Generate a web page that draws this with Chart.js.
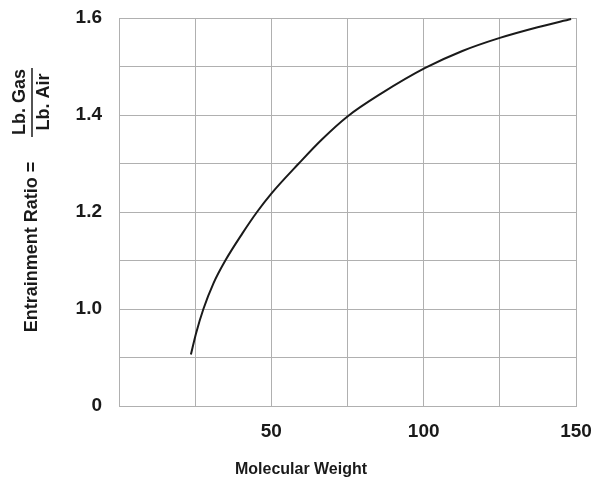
<!DOCTYPE html>
<html>
<head>
<meta charset="utf-8">
<script src="https://cdn.jsdelivr.net/npm/chart.js@4/dist/chart.umd.min.js"></script>
<style>
  html, body { margin: 0; padding: 0; background: #fff; }
  #wrap { width: 610px; height: 482px; }
</style>
</head>
<body>
<div id="wrap"><canvas id="chart"></canvas></div>
<script>
// values
const molWeight = [23.6, 25.3, 27.7, 31, 34.9, 40.5, 45.3, 50, 59, 66.5, 75, 86, 100.5, 112.7, 125, 137.4, 148.4];
const ratio     = [0.906, 0.95, 1.0, 1.053, 1.1, 1.156, 1.2, 1.238, 1.3, 1.349, 1.397, 1.444, 1.497, 1.532, 1.559, 1.581, 1.598];

const xTickLabels = [50, 100, 150];
const yTickLabels = { 8: "0", 10: "1.0", 12: "1.2", 14: "1.4", 16: "1.6" }; // bottom line 0.8 is shown as "0" (broken axis)

const gridColor = "#b0b0b0";
const textColor = "#1a1a1a";
const font = "'Liberation Sans', Arial, sans-serif";

// axis titles incl. the Lb. Gas / Lb. Air fraction
const titlesPlugin = {
    id: "titles",
    afterDraw(chart) {
        const ctx = chart.ctx;
        ctx.save();
        ctx.fillStyle = textColor;
        ctx.textAlign = "center";
        ctx.textBaseline = "middle";

        // slightly condensed, like the original lettering
        ctx.save();
        ctx.translate(301, 469);
        ctx.scale(0.94, 1);
        ctx.font = "bold 17px " + font;
        ctx.fillText("Molecular Weight", 0, 0);
        ctx.restore();

        ctx.font = "bold 18px " + font;
        const rot = (txt, x, y) => {
            ctx.save();
            ctx.translate(x, y);
            ctx.rotate(-Math.PI / 2);
            ctx.fillText(txt, 0, 0);
            ctx.restore();
        };
        rot("Entrainment Ratio =", 32, 247);
        rot("Lb. Gas", 20, 102);
        rot("Lb. Air", 44, 102);

        // fraction bar
        ctx.strokeStyle = textColor;
        ctx.lineWidth = 1.5;
        ctx.beginPath();
        ctx.moveTo(32, 68);
        ctx.lineTo(32, 137);
        ctx.stroke();
        ctx.restore();
    }
};

new Chart(document.getElementById("chart"), {
    type: "line",
    data: {
        datasets: [{
            data: molWeight.map((x, i) => ({ x: x, y: ratio[i] })),
            borderColor: "#1a1a1a",
            borderWidth: 2,
            pointRadius: 0,
            fill: false,
            cubicInterpolationMode: "monotone"
        }]
    },
    options: {
        responsive: true,
        maintainAspectRatio: false,
        animation: false,
        layout: { padding: { left: 0, right: 34, top: 18, bottom: 0 } },
        plugins: {
            legend: { display: false },
            tooltip: { enabled: false }
        },
        scales: {
            x: {
                type: "linear",
                min: 0,
                max: 150,
                afterFit: (s) => { s.height = 76; s.paddingLeft = 0; s.paddingRight = 0; },
                grid: { color: gridColor, lineWidth: 1, drawTicks: false },
                border: { color: gridColor },
                ticks: {
                    stepSize: 25,
                    padding: 14,
                    color: textColor,
                    font: { family: font, size: 19, weight: "bold" },
                    maxRotation: 0,
                    autoSkip: false,
                    callback: (v) => xTickLabels.includes(v) ? String(v) : ""
                }
            },
            y: {
                min: 0.8,
                max: 1.6,
                afterFit: (s) => { s.width = 119; s.paddingTop = 0; s.paddingBottom = 0; },
                grid: { color: gridColor, lineWidth: 1, drawTicks: false },
                border: { color: gridColor },
                ticks: {
                    stepSize: 0.1,
                    padding: 17,
                    color: textColor,
                    font: { family: font, size: 19, weight: "bold" },
                    autoSkip: false,
                    callback: (v) => yTickLabels[Math.round(v * 10)] || ""
                }
            }
        }
    },
    plugins: [titlesPlugin]
});
</script>
</body>
</html>
